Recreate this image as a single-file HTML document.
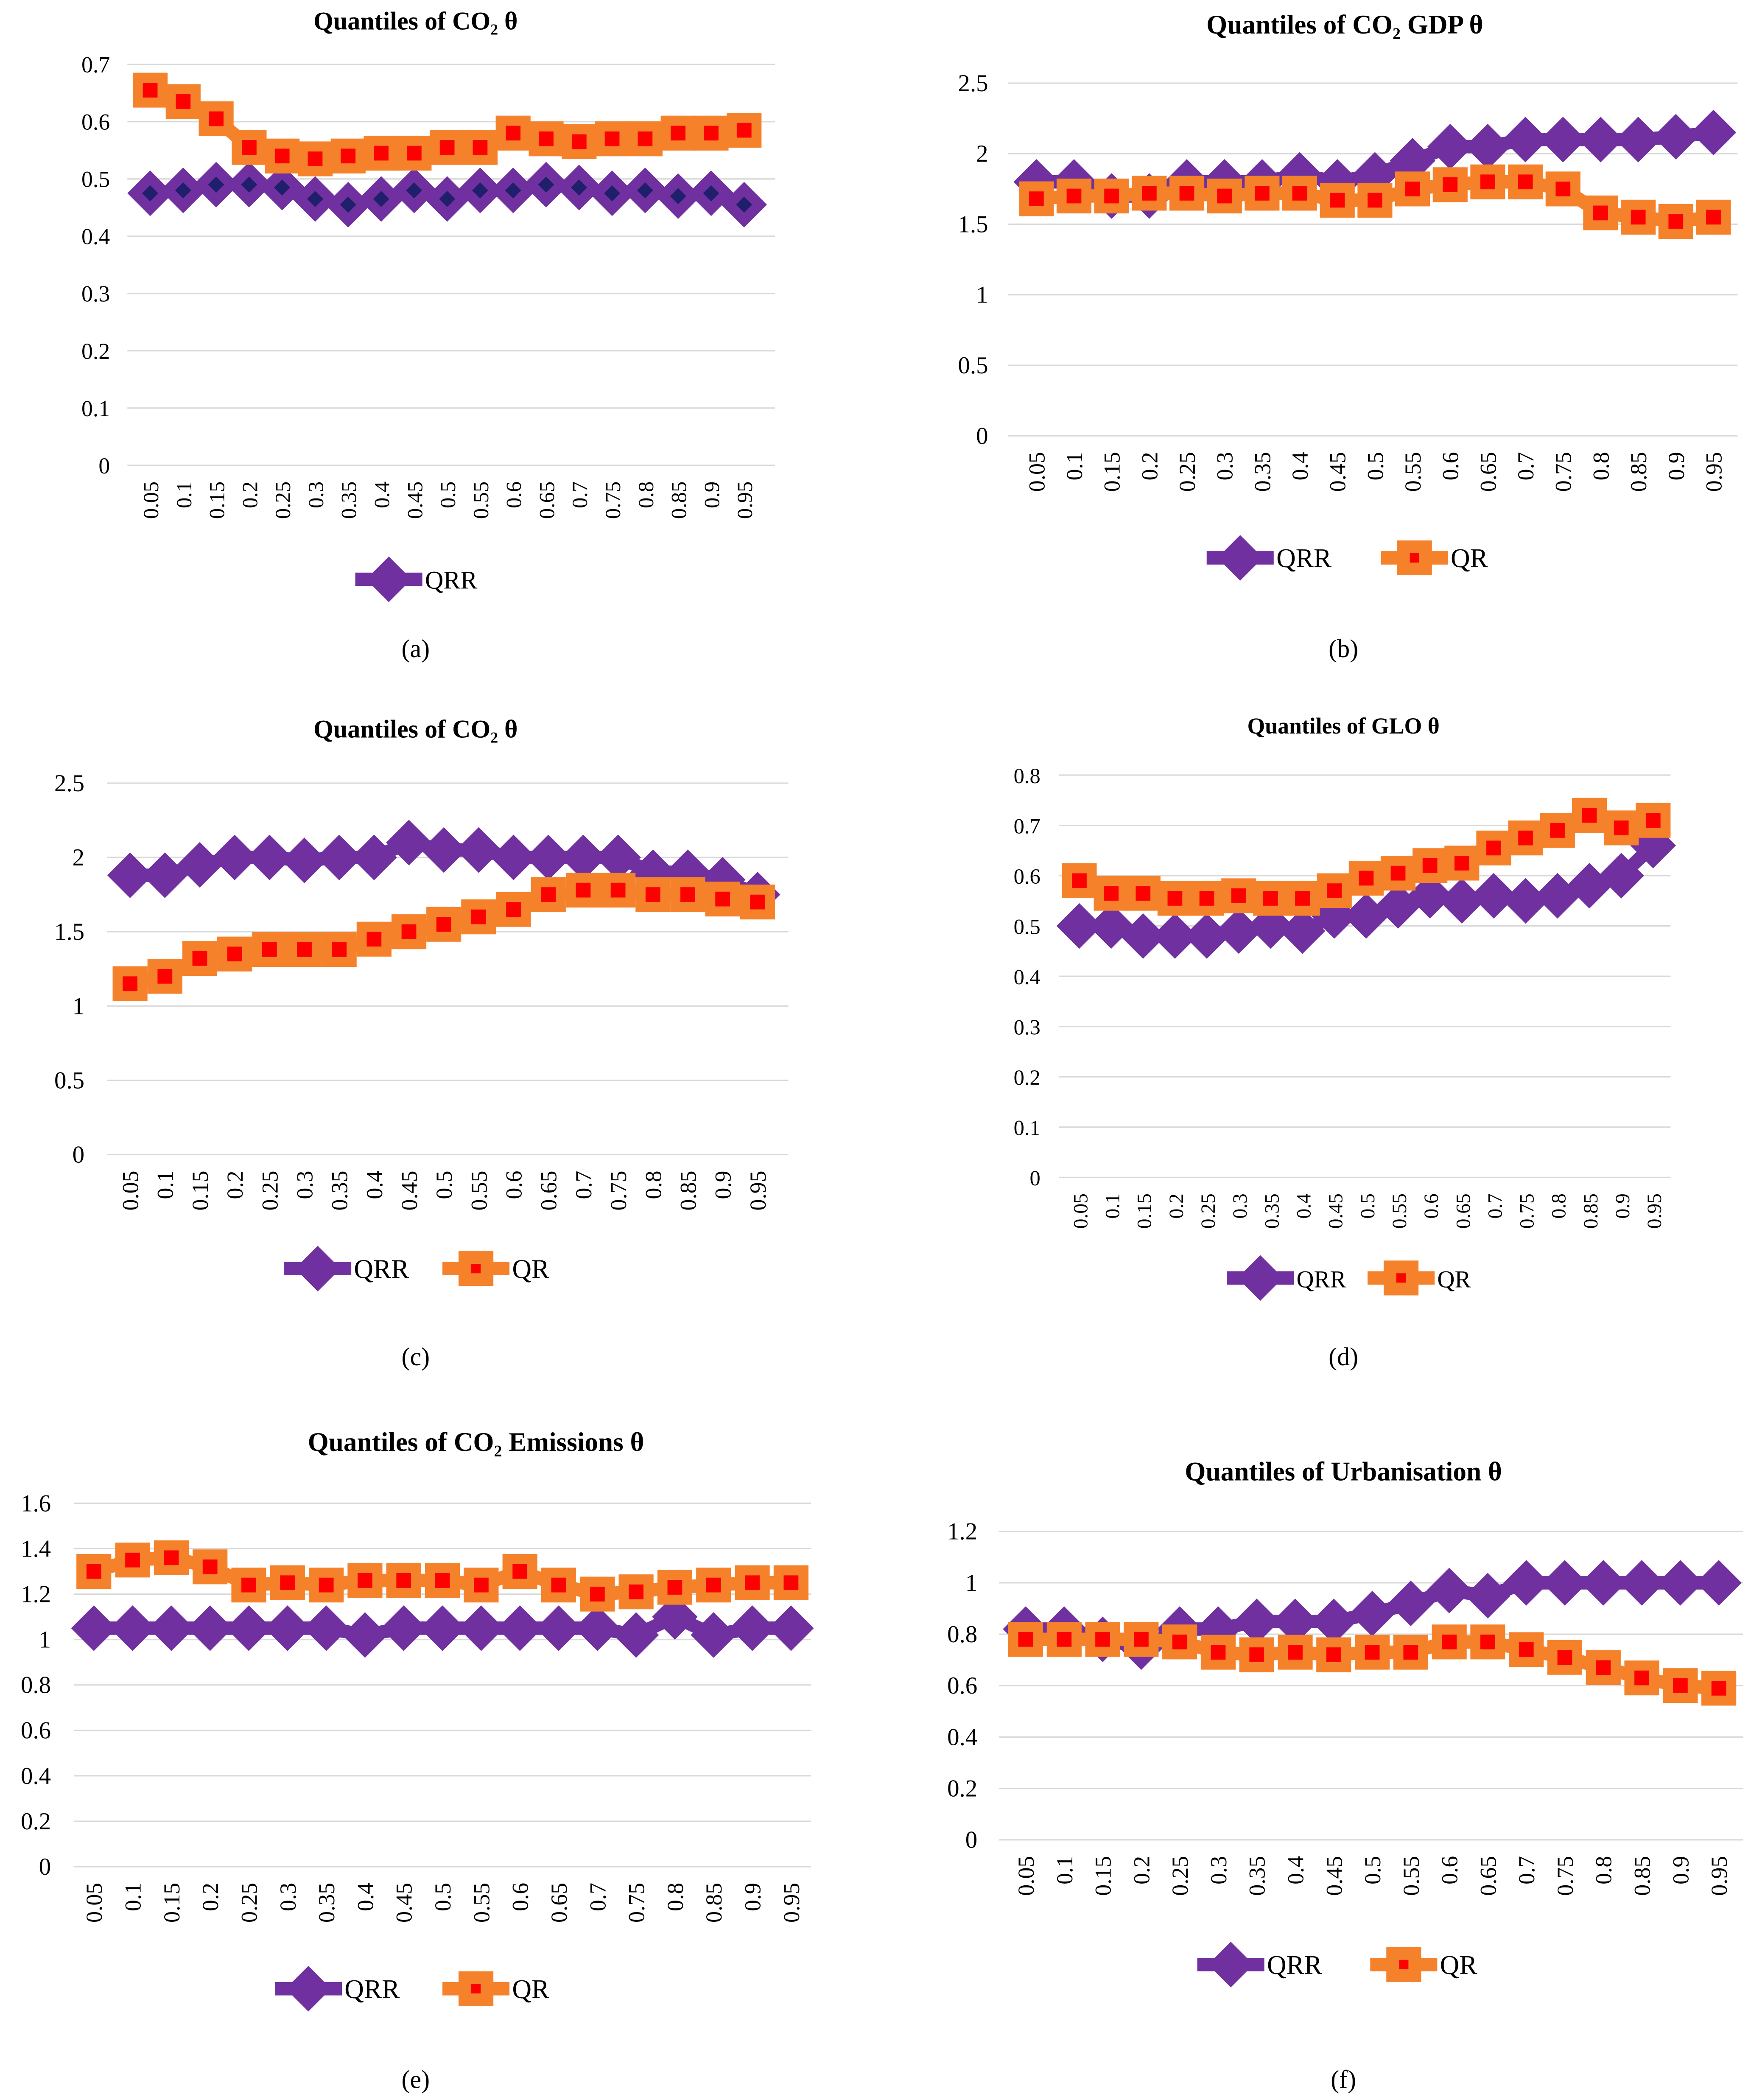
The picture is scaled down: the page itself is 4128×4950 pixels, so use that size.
<!DOCTYPE html>
<html><head><meta charset="utf-8">
<style>
html,body{margin:0;padding:0;background:#fff;}
svg{display:block;}
text{font-family:"Liberation Serif",serif;fill:#000;}
</style></head>
<body>
<svg id="chart" width="4128" height="4950" viewBox="0 0 1306 1566" preserveAspectRatio="none" xmlns="http://www.w3.org/2000/svg">
<rect width="1306" height="1566" fill="#fff"/>
</svg>
<script>
const categories = ["0.05","0.1","0.15","0.2","0.25","0.3","0.35","0.4","0.45","0.5","0.55","0.6","0.65","0.7","0.75","0.8","0.85","0.9","0.95"];
const qrrA = [0.475,0.48,0.49,0.49,0.485,0.465,0.455,0.465,0.48,0.465,0.48,0.48,0.49,0.485,0.475,0.48,0.47,0.475,0.455];
const qrA = [0.655,0.635,0.605,0.555,0.54,0.535,0.54,0.545,0.545,0.555,0.555,0.58,0.57,0.565,0.57,0.57,0.58,0.58,0.585];
const qrrB = [1.8,1.8,1.7,1.7,1.8,1.8,1.8,1.85,1.8,1.85,1.95,2.05,2.05,2.1,2.1,2.1,2.1,2.12,2.15];
const qrB = [1.68,1.7,1.7,1.72,1.72,1.7,1.72,1.72,1.67,1.67,1.75,1.78,1.8,1.8,1.75,1.58,1.55,1.52,1.55];
const qrrC = [1.88,1.88,1.95,2,2,1.98,2,2,2.1,2.05,2.05,2,2,2,2,1.9,1.9,1.85,1.75];
const qrC = [1.15,1.2,1.32,1.35,1.38,1.38,1.38,1.45,1.5,1.55,1.6,1.65,1.75,1.78,1.78,1.75,1.75,1.72,1.7];
const qrrD = [0.5,0.5,0.48,0.48,0.48,0.49,0.5,0.49,0.52,0.52,0.54,0.56,0.55,0.56,0.55,0.56,0.58,0.6,0.66];
const qrD = [0.59,0.565,0.565,0.555,0.555,0.56,0.555,0.555,0.57,0.595,0.605,0.62,0.625,0.655,0.675,0.69,0.72,0.695,0.71];
const qrrE = [1.05,1.05,1.05,1.05,1.05,1.05,1.05,1.02,1.05,1.05,1.05,1.05,1.05,1.05,1.02,1.1,1.02,1.05,1.05];
const qrE = [1.3,1.35,1.36,1.32,1.24,1.25,1.24,1.26,1.26,1.26,1.24,1.3,1.24,1.2,1.21,1.23,1.24,1.25,1.25];
const qrrF = [0.82,0.82,0.78,0.75,0.82,0.82,0.85,0.85,0.85,0.88,0.92,0.97,0.95,1.0,1.0,1.0,1.0,1.0,1.0];
const qrF = [0.78,0.78,0.78,0.78,0.77,0.73,0.72,0.73,0.72,0.73,0.73,0.77,0.77,0.74,0.71,0.67,0.63,0.6,0.59];
const ticksA = ["0","0.1","0.2","0.3","0.4","0.5","0.6","0.7"];
const ticksB = ["0","0.5","1","1.5","2","2.5"];
const ticksD = ["0","0.1","0.2","0.3","0.4","0.5","0.6","0.7","0.8"];
const ticksE = ["0","0.2","0.4","0.6","0.8","1","1.2","1.4","1.6"];
const ticksF = ["0","0.2","0.4","0.6","0.8","1","1.2"];

const NS="http://www.w3.org/2000/svg";
const svg=document.getElementById('chart');
function mk(tag,attrs,parent){const e=document.createElementNS(NS,tag);for(const k in attrs)e.setAttribute(k,attrs[k]);(parent||svg).appendChild(e);return e;}
const PURPLE="#7030A0",ORANGE="#F5822A",RED="#FF0000",NAVY="#1F1F6B";

const panels=[
 {id:'a',title:'Quantiles of CO₂ θ',tx:310,ty:22,ts:19,ticks:ticksA,max:0.7,yTop:48,yBot:347,lx:82,gx0:95,gx1:578,cx0:112,cx1:555,qrr:qrrA,qr:qrA,navy:true,legY:432,legQRR:265,legQR:null,cap:'(a)',capX:310,capY:490,fs:17},
 {id:'b',title:'Quantiles of CO₂ GDP  θ',tx:1003,ty:25,ts:20,ticks:ticksB,max:2.5,yTop:62,yBot:325,lx:737,gx0:752,gx1:1296,cx0:773,cx1:1278,qrr:qrrB,qr:qrB,legY:416,legQRR:900,legQR:1030,cap:'(b)',capX:1002,capY:490,fs:18},
 {id:'c',title:'Quantiles of  CO₂ θ',tx:310,ty:550,ts:19,ticks:ticksB,max:2.5,yTop:584,yBot:861,lx:63,gx0:80,gx1:588,cx0:97,cx1:565,qrr:qrrC,qr:qrC,legY:946,legQRR:212,legQR:330,cap:'(c)',capX:310,capY:1018,fs:18},
 {id:'d',title:'Quantiles of  GLO θ',tx:1002,ty:547,ts:17,ticks:ticksD,max:0.8,yTop:578,yBot:878,lx:776,gx0:790,gx1:1246,cx0:805,cx1:1233,qrr:qrrD,qr:qrD,legY:953,legQRR:915,legQR:1020,cap:'(d)',capX:1002,capY:1018,fs:16},
 {id:'e',title:'Quantiles of  CO₂ Emissions θ',tx:355,ty:1082,ts:20,ticks:ticksE,max:1.6,yTop:1121,yBot:1392,lx:38,gx0:55,gx1:605,cx0:70,cx1:590,qrr:qrrE,qr:qrE,legY:1483,legQRR:205,legQR:330,cap:'(e)',capX:310,capY:1557,fs:18},
 {id:'f',title:'Quantiles of Urbanisation θ',tx:1002,ty:1104,ts:20,ticks:ticksF,max:1.2,yTop:1142,yBot:1372,lx:729,gx0:745,gx1:1300,cx0:765,cx1:1282,qrr:qrrF,qr:qrF,legY:1465,legQRR:893,legQR:1022,cap:'(f)',capX:1002,capY:1557,fs:18}
];

function diamond(g,x,y,r,fill){return mk('polygon',{points:`${x},${y-r} ${x+r},${y} ${x},${y+r} ${x-r},${y}`,fill:fill},g);}
function square(g,x,y,s,inner){mk('rect',{x:x-s/2,y:y-s/2,width:s,height:s,fill:ORANGE},g);mk('rect',{x:x-inner/2,y:y-inner/2,width:inner,height:inner,fill:RED},g);}

panels.forEach(p=>{
 const g=mk('g',{});
 
 
 const yS=v=>p.yBot-(v/p.max)*(p.yBot-p.yTop);
 const xS=i=>p.cx0+i*(p.cx1-p.cx0)/(categories.length-1);
 const t=mk('text',{x:p.tx,y:p.ty,'text-anchor':'middle','font-size':p.ts,'font-weight':'bold'},g);
 t.textContent=p.title;
 
 
 p.ticks.forEach(tk=>{
  const v=parseFloat(tk),y=yS(v);
  const gl=mk('line',{x1:p.gx0,x2:p.gx1,y1:y,y2:y,stroke:'#d9d9d9','stroke-width':1},g);
  
  
  const tl=mk('text',{x:p.lx,y:y+6,'text-anchor':'end','font-size':p.fs},g);
  tl.textContent=tk;
  
  
 });
 categories.forEach((c,i)=>{
  const x=xS(i),y=p.yBot+12;
  const tl=mk('text',{x:x+6,y:y,'text-anchor':'end','font-size':p.fs-1,transform:`rotate(-90 ${x+6} ${y})`},g);
  tl.textContent=c;
  
  
 });
 const drawQRR=()=>{
  const pts=p.qrr.map((v,i)=>xS(i)+','+yS(v)).join(' ');
  const l=mk('polyline',{points:pts,fill:'none',stroke:PURPLE,'stroke-width':10,'stroke-linejoin':'round'},g);
  
  
  p.qrr.forEach((v,i)=>{
   const d=diamond(g,xS(i),yS(v),17,PURPLE);
   
   
   if(p.navy) diamond(g,xS(i),yS(v),6,NAVY);
  });
 };
 const drawQR=()=>{
  const pts=p.qr.map((v,i)=>xS(i)+','+yS(v)).join(' ');
  const l=mk('polyline',{points:pts,fill:'none',stroke:ORANGE,'stroke-width':10,'stroke-linejoin':'round'},g);
  
  
  p.qr.forEach((v,i)=>{
   const sg=mk('g',{},g);
   
   
   square(sg,xS(i),yS(v),26,11);
  });
 };
 drawQRR();drawQR();
 const lg=mk('g',{},g);
 
 
 const e1=mk('g',{},lg);
 
 
 mk('line',{x1:p.legQRR,x2:p.legQRR+50,y1:p.legY,y2:p.legY,stroke:PURPLE,'stroke-width':10},e1);
 diamond(e1,p.legQRR+25,p.legY,17,PURPLE);
 const t1=mk('text',{x:p.legQRR+52,y:p.legY+7,'font-size':p.fs+2},e1);t1.textContent='QRR';
 if(p.legQR!==null){
  const e2=mk('g',{},lg);
  
  
  mk('line',{x1:p.legQR,x2:p.legQR+50,y1:p.legY,y2:p.legY,stroke:ORANGE,'stroke-width':10},e2);
  square(e2,p.legQR+25,p.legY,26,7);
  const t2=mk('text',{x:p.legQR+52,y:p.legY+7,'font-size':p.fs+2},e2);t2.textContent='QR';
 }
 const cp=mk('text',{x:p.capX,y:p.capY,'text-anchor':'middle','font-size':19},g);
 cp.textContent=p.cap;
 
 
});
</script>
</body></html>
